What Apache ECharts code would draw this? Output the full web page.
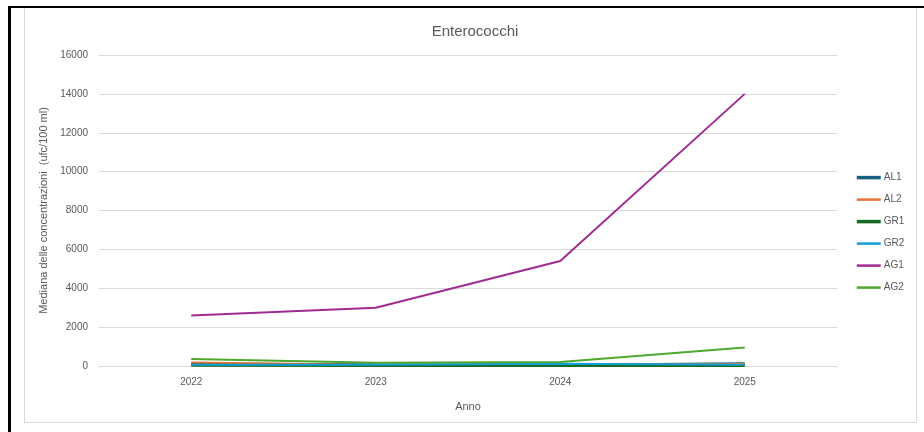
<!DOCTYPE html>
<html><head><meta charset="utf-8">
<script src="https://cdn.jsdelivr.net/npm/echarts@6/dist/echarts.min.js"></script>
<style>
html,body{margin:0;padding:0;background:#fff;}
#wrap{position:relative;width:924px;height:432px;overflow:hidden;}
#chart{position:absolute;left:0;top:0;width:924px;height:432px;}
#inner{position:absolute;left:24px;top:8px;width:891px;height:414px;border:1px solid #d9d9d9;border-top:none;}
#black{position:absolute;left:8px;top:6px;width:920px;height:430px;border-left:3px solid #000;border-top:2px solid #000;}
</style></head>
<body>
<div id="wrap">
<div id="inner"></div>
<div id="chart"></div>
<div id="black"></div>
</div>
<script>
const years = ['2022', '2023', '2024', '2025'];
const AL1 = [100, 60, 40, 120];
const AL2 = [180, 50, 60, 100];
const GR1 = [40, 20, 20, 30];
const GR2 = [70, 60, 120, 60];
const AG1 = [2600, 3000, 5400, 14000];
const AG2 = [360, 170, 210, 950];
const seriesNames = ['AL1', 'AL2', 'GR1', 'GR2', 'AG1', 'AG2'];
const seriesData = [AL1, AL2, GR1, GR2, AG1, AG2];
const colors = ['#156082', '#E97132', '#196B24', '#0F9ED5', '#A02B93', '#4EA72E'];
const widths = [3, 2, 3, 2, 2, 2];

const chart = echarts.init(document.getElementById('chart'));
const txt = '#595959';
chart.setOption({
  animation: false,
  title: {text: 'Enterococchi', left: 470, textAlign: 'center', top: 19,
    textStyle: {fontFamily: 'Liberation Sans', fontSize: 15, fontWeight: 'normal', color: txt}},
  grid: {left: 99, right: 87, top: 55, bottom: 66},
  legend: {orient: 'vertical', left: 850, top: 167, itemWidth: 24, itemHeight: 14, itemGap: 10.8,
    itemStyle: {opacity: 0},
    textStyle: {fontFamily: 'Liberation Sans', fontSize: 10, color: txt, padding: [0,0,0,-2]},
    data: seriesNames.map((n, i) => ({name: n, lineStyle: {width: widths[i] + 0.5}}))},
  xAxis: {type: 'category', data: years, boundaryGap: true,
    name: 'Anno', nameLocation: 'middle', nameGap: 35,
    nameTextStyle: {fontFamily: 'Liberation Sans', fontSize: 11, color: txt},
    axisLine: {lineStyle: {color: '#d9d9d9'}}, axisTick: {show: false},
    axisLabel: {fontFamily: 'Liberation Sans', fontSize: 10, color: txt, margin: 11}},
  yAxis: {type: 'value', min: 0, max: 16000, interval: 2000,
    name: 'Mediana delle concentrazioni  (ufc/100 ml)', nameLocation: 'middle', nameGap: 38,
    nameTextStyle: {fontFamily: 'Liberation Sans', fontSize: 11, color: txt},
    axisLine: {show: false}, axisTick: {show: false},
    axisLabel: {fontFamily: 'Liberation Sans', fontSize: 10, color: txt, margin: 11, formatter: v => String(v)},
    splitLine: {lineStyle: {color: '#d9d9d9'}}},
  series: seriesNames.map((n, i) => ({
    name: n, type: 'line', data: seriesData[i], symbol: 'none',
    color: colors[i], lineStyle: {width: widths[i], color: colors[i]}
  }))
});
</script>
</body></html>
